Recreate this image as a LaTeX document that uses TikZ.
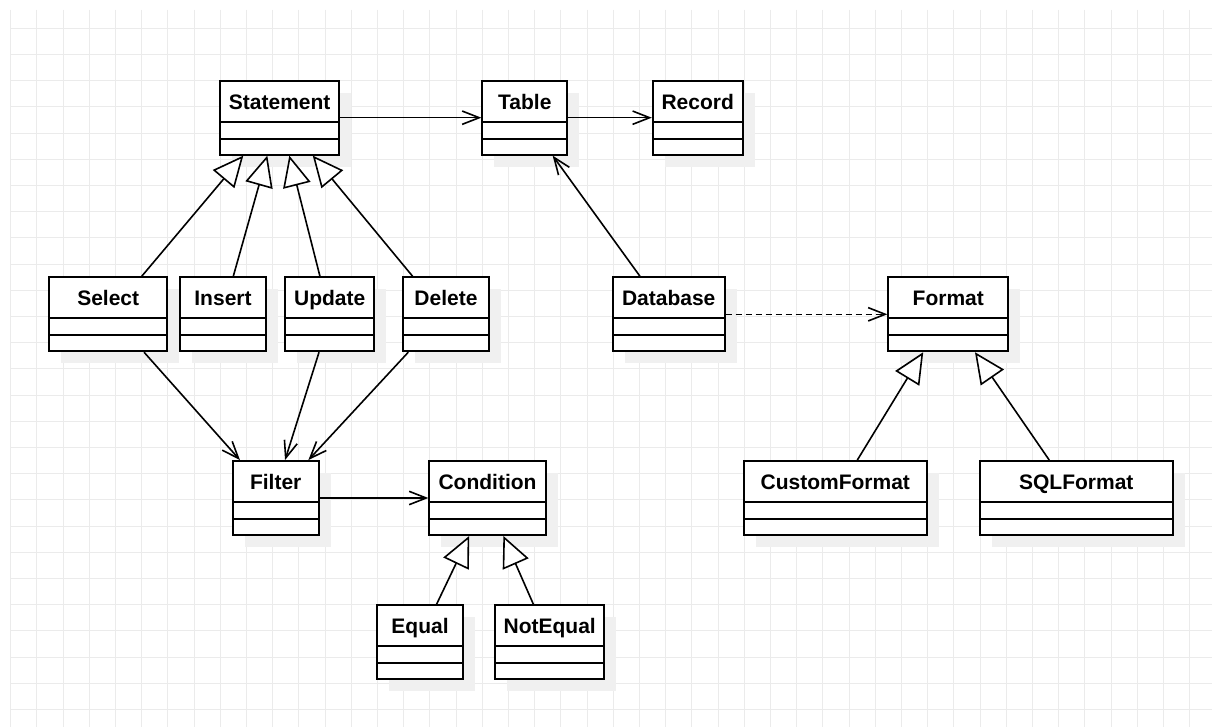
\documentclass[tikz,border=0pt]{standalone}
\usepackage{fontspec}
\setmainfont{Liberation Sans}
\usetikzlibrary{arrows.meta,shadows}

\tikzset{
  gridline/.style={draw=gray!16, line width=0.75pt},
  umlclass/.style={draw, line width=1.4pt, fill=white, inner sep=0pt,
    minimum height=55.5pt, text height=21.5pt, text depth=34pt,
    font=\bfseries\fontsize{15.75pt}{18pt}\selectfont,
    drop shadow={shadow xshift=9pt, shadow yshift=-9pt, opacity=1, fill=gray!12, draw=none},
    path picture={
      \draw[line width=1.4pt] ([yshift=-30.75pt]path picture bounding box.north west) -- ([yshift=-30.75pt]path picture bounding box.north east)
        ([yshift=-43.5pt]path picture bounding box.north west) -- ([yshift=-43.5pt]path picture bounding box.north east);}},
  assoc/.style={line width=1.2pt, -{Straight Barb[length=12.75pt,width=10pt]}},
  depend/.style={assoc, dash pattern=on 4.5pt off 3pt},
  inherit/.style={line width=1.2pt, -{Triangle[length=23pt,width=21pt,fill=white]}}
}

\begin{document}
\begin{tikzpicture}[x=0.75pt,y=0.75pt,yscale=-1,xscale=1]
    \useasboundingbox (0,0) rectangle (1212,727);
    \fill[white] (0,0) rectangle (1212,727);

    %Grid
    \foreach \k in {0,...,45} \draw[gridline] ({10.7+26.2*\k},10) -- ({10.7+26.2*\k},727);
    \foreach \k in {0,...,26} \draw[gridline] (10.7,{28.3+26.2*\k}) -- (1212,{28.3+26.2*\k});

    %Classes: top row
    \node[umlclass, minimum width=89.5pt] (statement) at (279.7,117.7) {Statement};
    \node[umlclass, minimum width=63.75pt] (table) at (524.8,117.7) {Table};
    \node[umlclass, minimum width=67.5pt] (record) at (697.7,117.7) {Record};

    %Classes: second row
    \node[umlclass, minimum width=88.7pt] (select) at (108.2,314.3) {Select};
    \node[umlclass, minimum width=64pt] (insert) at (223,314.3) {Insert};
    \node[umlclass, minimum width=66.5pt] (update) at (329.7,314.3) {Update};
    \node[umlclass, minimum width=64pt] (delete) at (446,314.3) {Delete};
    \node[umlclass, minimum width=84pt] (database) at (668.7,314.3) {Database};
    \node[umlclass, minimum width=90pt] (format) at (948.3,314.3) {Format};

    %Classes: third row
    \node[umlclass, minimum width=64.5pt] (filter) at (275.7,498) {Filter};
    \node[umlclass, minimum width=87.3pt] (condition) at (487.5,498) {Condition};
    \node[umlclass, minimum width=137pt] (customformat) at (835.3,498) {CustomFormat};
    \node[umlclass, minimum width=144.5pt] (sqlformat) at (1076.3,498) {SQLFormat};

    %Classes: bottom row
    \node[umlclass, minimum width=64pt] (equal) at (420,642) {Equal};
    \node[umlclass, minimum width=81.5pt] (notequal) at (549.7,642) {NotEqual};

    %Associations
    \draw[assoc] (statement.east) -- (table.west);
    \draw[assoc] (table.east) -- (record.west);
    \draw[assoc] ([xshift=-21.5pt]database.north) -- ([xshift=20.9pt]table.south);
    \draw[assoc] ([xshift=26.9pt]select.south) -- ([xshift=-26.8pt]filter.north);
    \draw[assoc] ([xshift=-8pt]update.south) -- ([xshift=7pt]filter.north);
    \draw[assoc] ([xshift=-28.3pt]delete.south) -- ([xshift=24.5pt]filter.north);
    \draw[assoc] (filter.east) -- (condition.west);
    \draw[depend] (database.east) -- (format.west);

    %Generalisations
    \draw[inherit] ([xshift=25.1pt]select.north) -- ([xshift=-27.3pt]statement.south);
    \draw[inherit] ([xshift=7.7pt]insert.north) -- ([xshift=-9.3pt]statement.south);
    \draw[inherit] ([xshift=-7.3pt]update.north) -- ([xshift=7.2pt]statement.south);
    \draw[inherit] ([xshift=-25pt]delete.north) -- ([xshift=24.8pt]statement.south);
    \draw[inherit] ([xshift=16.5pt]customformat.north) -- ([xshift=-18.8pt]format.south);
    \draw[inherit] ([xshift=-20.3pt]sqlformat.north) -- ([xshift=20pt]format.south);
    \draw[inherit] ([xshift=12.5pt]equal.north) -- ([xshift=-13.7pt]condition.south);
    \draw[inherit] ([xshift=-12.3pt]notequal.north) -- ([xshift=11.9pt]condition.south);
\end{tikzpicture}
\end{document}
